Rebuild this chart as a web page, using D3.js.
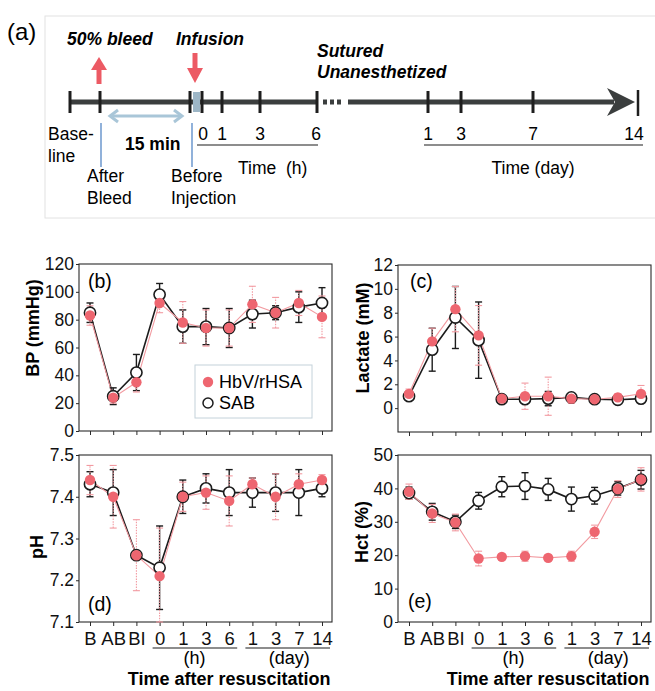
<!DOCTYPE html>
<html>
<head>
<meta charset="utf-8">
<script src="https://cdn.jsdelivr.net/npm/d3@7"></script>
<style>
  body { margin: 0; background: #fff; }
  svg { display: block; font-family: "Liberation Sans", Arial, Helvetica, sans-serif; }
</style>
</head>
<body>
<svg width="655" height="691"></svg>
<script>
// time points on the x axis (B = baseline, AB = after bleed, BI = before injection)
const categories = ["B", "AB", "BI", "0", "1", "3", "6", "1", "3", "7", "14"]

// blood pressure (mmHg)
const bpHbv   = [83, 24, 35, 92, 78, 74, 74, 91, 85, 92, 82]
const bpHbvSd = [7, 4, 7, 7, 15, 13, 13, 13, 11, 9, 15]
const bpSab   = [85, 25, 42, 98, 75, 75, 74, 84, 85, 89, 92]
const bpSabSd = [7, 6, 13, 8, 12, 13, 14, 10, 5, 11, 11]
const bpTicks = [0, 20, 40, 60, 80, 100, 120]

// lactate (mM)
const lacHbv   = [1.2, 5.6, 8.3, 6.1, 0.8, 1.0, 1.0, 0.8, 0.75, 0.9, 1.2]
const lacHbvSd = [0.4, 1.1, 1.9, 2.5, 0.3, 1.1, 1.6, 0.4, 0.2, 0.3, 0.7]
const lacSab   = [1.0, 4.9, 7.6, 5.7, 0.75, 0.75, 0.8, 0.9, 0.75, 0.7, 0.8]
const lacSabSd = [0.3, 1.8, 2.6, 3.2, 0.2, 0.3, 0.6, 0.2, 0.2, 0.3, 0.2]
const lacTicks = [0, 2, 4, 6, 8, 10, 12]

// pH
const phHbv   = [7.44, 7.40, 7.26, 7.21, 7.40, 7.41, 7.39, 7.43, 7.40, 7.43, 7.44]
const phHbvSd = [0.035, 0.075, 0.085, 0.115, 0.035, 0.04, 0.06, 0.015, 0.055, 0.025, 0.013]
const phSab   = [7.43, 7.41, 7.26, 7.23, 7.40, 7.42, 7.41, 7.41, 7.41, 7.41, 7.42]
const phSabSd = [0.03, 0.055, 0.01, 0.10, 0.04, 0.035, 0.055, 0.035, 0.045, 0.055, 0.02]
const phTicks = [7.1, 7.2, 7.3, 7.4, 7.5]

// hematocrit (%)
const hctHbv   = [39, 32.5, 29.8, 19, 19.5, 19.7, 19.2, 19.7, 27, 39.8, 42.7]
const hctHbvSd = [2.3, 2.7, 2.5, 2.2, 0.8, 1.5, 0.8, 1.5, 2, 2.5, 3.5]
const hctSab   = [38.6, 33, 30, 36.3, 40.5, 40.7, 39.7, 36.8, 37.8, 40, 42.6]
const hctSabSd = [1.8, 2.5, 2, 2.5, 3, 4, 3.3, 3.6, 2.5, 2, 2.8]
const hctTicks = [0, 10, 20, 30, 40, 50]

// timeline of panel (a)
const hourTicks = [0, 1, 3, 6]
const dayTicks = [1, 3, 7, 14]

const pink = "#ee6670"
const pinkLine = "#f29aa0"
const ink = "#1c1c1c"

const svg = d3.select("svg")

// ---------- panel (a): experimental timeline ----------
const tl = svg.append("g")
const lineY = 102

tl.append("rect")
  .attr("x", 45).attr("y", 16).attr("width", 612).attr("height", 202)
  .attr("fill", "none").attr("stroke", "#e2e2e2")

tl.append("text").attr("x", 7).attr("y", 40).attr("font-size", 24).text("(a)")

const hourX = d3.scaleLinear().domain([0, 6]).range([203, 317])
const dayX = d3.scaleLinear().domain([1, 3, 7, 14]).range([428, 461, 533, 638])

// main bar
tl.append("line").attr("x1", 70).attr("x2", hourX(6)).attr("y1", lineY).attr("y2", lineY)
  .attr("stroke", "#3b3e3e").attr("stroke-width", 5)
tl.selectAll("rect.dot").data([0, 1, 2]).enter().append("rect")
  .attr("class", "dot")
  .attr("x", d => hourX(6) + 6 + d * 7).attr("y", lineY - 2.5)
  .attr("width", 4).attr("height", 5).attr("fill", "#3b3e3e")
tl.append("line").attr("x1", 348).attr("x2", 614).attr("y1", lineY).attr("y2", lineY)
  .attr("stroke", "#3b3e3e").attr("stroke-width", 5)
tl.append("path")
  .attr("d", `M607,${lineY - 14} L635,${lineY} L607,${lineY + 14} L615,${lineY} Z`)
  .attr("fill", "#3b3e3e")

// infusion gap fill
tl.append("rect").attr("x", 193).attr("y", lineY - 10).attr("width", 7).attr("height", 20)
  .attr("fill", "#9db6c6")

// ticks
const tickXs = [70, 100, 190, 202]
  .concat(hourTicks.slice(1).map(hourX))
  .concat(dayTicks.slice(0, 3).map(dayX))
tl.selectAll("line.tk").data(tickXs).enter().append("line")
  .attr("class", "tk")
  .attr("x1", d => d).attr("x2", d => d)
  .attr("y1", lineY - 11).attr("y2", lineY + 11)
  .attr("stroke", "#1e1e1e").attr("stroke-width", 3)
tl.append("line").attr("x1", dayX(14)).attr("x2", dayX(14))
  .attr("y1", lineY - 12).attr("y2", lineY + 14)
  .attr("stroke", "#1e1e1e").attr("stroke-width", 2.5)

// red arrows
const red = "#ec5a64"
tl.append("line").attr("x1", 99).attr("x2", 99).attr("y1", 84).attr("y2", 68)
  .attr("stroke", red).attr("stroke-width", 5)
tl.append("path").attr("d", "M91,70 L107,70 L99,57 Z").attr("fill", red)
tl.append("line").attr("x1", 195).attr("x2", 195).attr("y1", 53).attr("y2", 70)
  .attr("stroke", red).attr("stroke-width", 5)
tl.append("path").attr("d", "M187,68 L203,68 L195,83 Z").attr("fill", red)

// light blue double arrow (15 min)
const lb = "#a9c6d8"
tl.append("line").attr("x1", 111).attr("x2", 181).attr("y1", 116).attr("y2", 116)
  .attr("stroke", lb).attr("stroke-width", 3)
tl.append("path").attr("d", "M118,110 L110,116 L118,122").attr("fill", "none")
  .attr("stroke", lb).attr("stroke-width", 3)
tl.append("path").attr("d", "M174,110 L182,116 L174,122").attr("fill", "none")
  .attr("stroke", lb).attr("stroke-width", 3)

// blue markers for the two pre-infusion time points
tl.selectAll("line.bl").data([101, 192]).enter().append("line")
  .attr("class", "bl")
  .attr("x1", d => d).attr("x2", d => d).attr("y1", 123).attr("y2", 167)
  .attr("stroke", "#5688c6").attr("stroke-width", 1.3)

// annotation text
const bi = { "font-weight": "bold", "font-style": "italic", "font-size": 17.5 }
const addText = (x, y, s, attrs) => {
  const t = tl.append("text").attr("x", x).attr("y", y).attr("font-size", 17.5).text(s)
  Object.entries(attrs || {}).forEach(([k, v]) => t.attr(k, v))
  return t
}
addText(67, 45, "50% bleed", bi)
addText(176, 45, "Infusion", bi)
addText(317, 57, "Sutured", bi)
addText(317, 78, "Unanesthetized", bi)
addText(48, 140, "Base-")
addText(48, 162, "line")
addText(125, 150, "15 min", { "font-weight": "bold" })
addText(87, 182, "After")
addText(87, 204, "Bleed")
addText(171, 182, "Before")
addText(171, 204, "Injection")

tl.selectAll("text.hr").data(hourTicks).enter().append("text")
  .attr("class", "hr").attr("font-size", 17.5).attr("text-anchor", "middle")
  .attr("x", d => hourX(d) + (d === 6 ? -1 : 0)).attr("y", 140).text(d => d)
tl.append("line").attr("x1", 197).attr("x2", 318).attr("y1", 145).attr("y2", 145)
  .attr("stroke", ink).attr("stroke-width", 1.2)
addText(238, 174, "Time  (h)").attr("xml:space", "preserve")

tl.selectAll("text.dy").data(dayTicks).enter().append("text")
  .attr("class", "dy").attr("font-size", 17.5).attr("text-anchor", "middle")
  .attr("x", d => dayX(d) - (d === 14 ? 4 : 0)).attr("y", 140).text(d => d)
tl.append("line").attr("x1", 424).attr("x2", 643).attr("y1", 145).attr("y2", 145)
  .attr("stroke", ink).attr("stroke-width", 1.2)
addText(533, 174, "Time (day)", { "text-anchor": "middle" })

// ---------- panels (b)-(e) ----------
const panels = [
  { tag: "(b)", title: "BP (mmHg)", hbv: bpHbv, hbvSd: bpHbvSd, sab: bpSab, sabSd: bpSabSd,
    domain: [0, 120], ticks: bpTicks, fmt: d3.format("d"),
    left: 79, right: 332, top: 264, bottom: 431, labels: false,
    tagPos: [88, 288], titlePos: [33, 328] },
  { tag: "(c)", title: "Lactate (mM)", hbv: lacHbv, hbvSd: lacHbvSd, sab: lacSab, sabSd: lacSabSd,
    domain: [-2, 12], ticks: lacTicks, fmt: d3.format("d"),
    left: 398, right: 651, top: 265, bottom: 432, labels: false,
    tagPos: [410, 288], titlePos: [363, 338] },
  { tag: "(d)", title: "pH", hbv: phHbv, hbvSd: phHbvSd, sab: phSab, sabSd: phSabSd,
    domain: [7.1, 7.5], ticks: phTicks, fmt: d3.format(".1f"),
    left: 79, right: 332, top: 455, bottom: 622, labels: true,
    tagPos: [88, 611], titlePos: [37, 547] },
  { tag: "(e)", title: "Hct (%)", hbv: hctHbv, hbvSd: hctHbvSd, sab: hctSab, sabSd: hctSabSd,
    domain: [0, 50], ticks: hctTicks, fmt: d3.format("d"),
    left: 398, right: 651, top: 455, bottom: 622, labels: true,
    tagPos: [408, 608], titlePos: [362, 532] }
]

const drawPanel = function (p) {
  const g = svg.append("g")
  const idx = d3.range(categories.length)

  const x = d3.scalePoint().domain(idx).range([p.left + 11, p.right - 10])
  const y = d3.scaleLinear().domain(p.domain).range([p.bottom, p.top]).clamp(true)

  g.append("rect")
    .attr("x", p.left).attr("y", p.top)
    .attr("width", p.right - p.left).attr("height", p.bottom - p.top)
    .attr("fill", "none").attr("stroke", "#2a2a2a").attr("stroke-width", 1.1)

  const axisY = d3.axisLeft(y).tickValues(p.ticks).tickFormat(p.fmt)
    .tickSize(3).tickPadding(2)
  const gy = g.append("g").attr("transform", `translate(${p.left},0)`).call(axisY)
  gy.attr("font-size", 17.5)

  const axisX = d3.axisBottom(x).tickSize(4).tickPadding(6)
    .tickFormat(i => p.labels ? categories[i] : "")
  const gx = g.append("g").attr("transform", `translate(0,${p.bottom})`).call(axisX)
  gx.attr("font-size", 18.5)

  ;[gx, gy].forEach(a => {
    a.attr("font-family", null)
    a.select(".domain").remove()
    a.selectAll("line").attr("stroke", "#2a2a2a")
    a.selectAll("text").attr("fill", "#111")
  })

  // time group underlines and units
  if (p.labels) {
    const under = [[3, 6, "(h)"], [7, 10, "(day)"]]
    under.forEach(([a, b, lab]) => {
      g.append("line")
        .attr("x1", x(a) - 7).attr("x2", x(b) + 8)
        .attr("y1", p.bottom + 26).attr("y2", p.bottom + 26)
        .attr("stroke", ink).attr("stroke-width", 1.1)
      g.append("text")
        .attr("x", (x(a + 1) + x(a + 2)) / 2 + (lab === "(day)" ? 2 : 0))
        .attr("y", p.bottom + 42)
        .attr("text-anchor", "middle").attr("font-size", 18)
        .text(lab)
    })
    g.append("text")
      .attr("x", x(6)).attr("y", p.bottom + 63)
      .attr("text-anchor", "middle").attr("font-size", 18).attr("font-weight", "bold")
      .text("Time after resuscitation")
  }

  // axis title
  g.append("text")
    .attr("transform", `translate(${p.titlePos[0]},${p.titlePos[1]}) rotate(-90)`)
    .attr("text-anchor", "middle").attr("dy", "0.35em")
    .attr("font-size", 18).attr("font-weight", "bold")
    .text(p.title)

  // panel tag
  g.append("text").attr("x", p.tagPos[0]).attr("y", p.tagPos[1])
    .attr("font-size", 19.5).text(p.tag)

  const line = d3.line().x((d, i) => x(i)).y(d => y(d))

  // connecting lines
  g.append("path").datum(p.sab).attr("d", line)
    .attr("fill", "none").attr("stroke", ink).attr("stroke-width", 1.6)
  g.append("path").datum(p.hbv).attr("d", line)
    .attr("fill", "none").attr("stroke", pinkLine).attr("stroke-width", 1.1)

  // error bars
  const errBars = function (vals, sds, color, width, dash) {
    const eb = g.append("g")
    eb.selectAll("line.v").data(vals).enter().append("line")
      .attr("class", "v")
      .attr("x1", (d, i) => x(i)).attr("x2", (d, i) => x(i))
      .attr("y1", (d, i) => y(d - sds[i])).attr("y2", (d, i) => y(d + sds[i]))
      .attr("stroke", color).attr("stroke-width", width).attr("stroke-dasharray", dash)
    ;[-1, 1].forEach(s => {
      eb.selectAll("line.c" + (s + 1)).data(vals).enter().append("line")
        .attr("class", "c" + (s + 1))
        .attr("x1", (d, i) => x(i) - 3.5).attr("x2", (d, i) => x(i) + 3.5)
        .attr("y1", (d, i) => y(d + s * sds[i])).attr("y2", (d, i) => y(d + s * sds[i]))
        .attr("stroke", color).attr("stroke-width", width)
    })
  }
  errBars(p.sab, p.sabSd, ink, 1.4, null)
  errBars(p.hbv, p.hbvSd, "#f29aa1", 1.1, "1.5,1.2")

  // markers
  g.selectAll("circle.sab").data(p.sab).enter().append("circle")
    .attr("class", "sab")
    .attr("cx", (d, i) => x(i)).attr("cy", d => y(d)).attr("r", 5.6)
    .attr("fill", "#fff").attr("stroke", ink).attr("stroke-width", 1.6)
  g.selectAll("circle.hbv").data(p.hbv).enter().append("circle")
    .attr("class", "hbv")
    .attr("cx", (d, i) => x(i)).attr("cy", d => y(d)).attr("r", 5.2)
    .attr("fill", pink)
}

panels.forEach(drawPanel)

// legend in panel (b)
const lg = svg.append("g").attr("transform", "translate(195,365)")
lg.append("rect").attr("width", 117).attr("height", 53)
  .attr("fill", "#fff").attr("stroke", "#c4d2da").attr("stroke-width", 1)
lg.append("circle").attr("cx", 13).attr("cy", 17).attr("r", 5.2).attr("fill", pink)
lg.append("text").attr("x", 24).attr("y", 23).attr("font-size", 18).text("HbV/rHSA")
lg.append("circle").attr("cx", 13).attr("cy", 38).attr("r", 5)
  .attr("fill", "#fff").attr("stroke", ink).attr("stroke-width", 1.5)
lg.append("text").attr("x", 24).attr("y", 44).attr("font-size", 18).text("SAB")
</script>
</body>
</html>
